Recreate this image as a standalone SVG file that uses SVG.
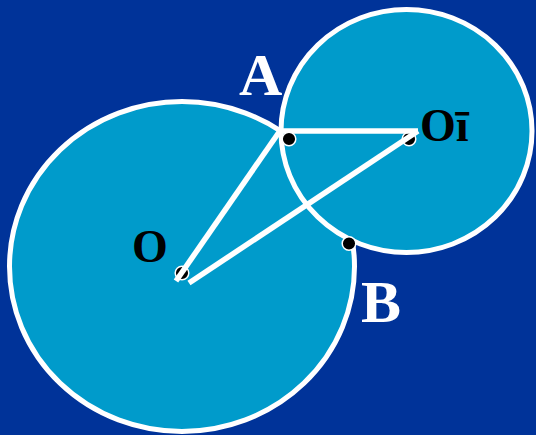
<svg xmlns="http://www.w3.org/2000/svg" width="536" height="435" viewBox="0 0 536 435">
<style>
.circ{fill:#009BCB;stroke:#FFFFFF;stroke-width:5}
.ln{stroke:#FFFFFF;stroke-width:5.5;stroke-linecap:butt;fill:none}
.dot{fill:#000000;stroke:#FFFFFF;stroke-width:1.5}
.lblw{font-family:"Liberation Serif","Times New Roman",serif;font-weight:bold;fill:#FFFFFF;font-size:60px}
.lblk{font-family:"Liberation Serif","Times New Roman",serif;font-weight:bold;fill:#000000;font-size:46px}
</style>
<rect x="0" y="0" width="536" height="435" fill="#003399"/>
<g id="circle-O">
<ellipse class="circ" cx="182" cy="266.5" rx="172.5" ry="165"/>
</g>
<g id="circle-O1">
<ellipse class="circ" cx="406.5" cy="131" rx="125.5" ry="121.5"/>
</g>
<g id="point-O">
<circle class="dot" cx="182" cy="273" r="6.8"/>
</g>
<g id="point-O1">
<circle class="dot" cx="409" cy="139" r="6.8"/>
</g>
<g id="connectors">
<line class="ln" x1="279" y1="131" x2="418" y2="131"/>
<line class="ln" x1="280.5" y1="130" x2="176" y2="281"/>
<line class="ln" x1="418" y1="131" x2="189" y2="283"/>
</g>
<g id="point-A">
<circle class="dot" cx="289" cy="139" r="6.8"/>
</g>
<g id="point-B">
<circle class="dot" cx="349" cy="243.5" r="6.8"/>
</g>
<g id="labels">
<text class="lblw" x="239" y="95">A</text>
<text class="lblw" x="361" y="322">B</text>
<text class="lblk" x="132" y="261.5">O</text>
<text class="lblk" x="420" y="141">Oī</text>
</g>
</svg>
